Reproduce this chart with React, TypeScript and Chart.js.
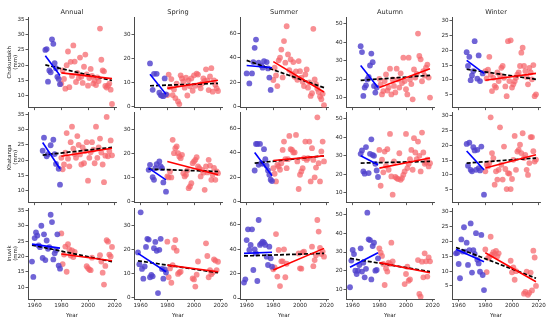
import React, { useEffect, useRef } from 'react';
import { Chart, registerables } from 'chart.js';

Chart.register(...registerables);

// ---------- labels & axes ----------
const SEASONS = ['Annual', 'Spring', 'Summer', 'Autumn', 'Winter'];
const STATIONS = ['Chokurdakh', 'Khatanga', 'Inuvik'];
const UNIT = '(mm)';
const X_LABEL = 'Year';
const X_TICKS = [1960, 1980, 2000, 2020];
const X_RANGE = [1955, 2021];

const ANNUAL_TICKS = [10, 15, 20, 25, 30, 35];
const SPRING_TICKS = [0, 10, 20, 30];
const SUMMER_TICKS = [0, 20, 40, 60];
const AUTUMN_TICKS = [10, 20, 30, 40, 50];
const WINTER_TICKS = [5, 10, 15, 20, 25, 30];

const ANNUAL_RANGE = [6.1, 35.8];
const SPRING_RANGE = [-0.6, 37.5];
const SUMMER_RANGE = [-0.8, 73.6];
const AUTUMN_RANGE = [4.8, 53.6];
const WINTER_RANGE = [0.6, 31.3];

// ---------- years ----------
const RED_YEARS = [1980, 1981, 1982, 1983, 1984, 1985, 1986, 1987, 1988, 1989, 1990, 1991, 1992, 1993, 1994, 1995, 1996, 1997, 1998, 1999, 2000, 2001, 2002, 2003, 2004, 2005, 2006, 2007, 2008, 2009, 2010, 2011, 2012, 2013, 2014, 2015, 2016, 2017, 2018];
const INUVIK_BLUE_YEARS = [1958, 1959, 1960, 1961, 1962, 1963, 1964, 1965, 1966, 1967, 1968, 1969, 1970, 1971, 1972, 1973, 1974, 1975, 1976, 1977, 1978, 1979];
const INUVIK_RED_YEARS = [1980, 1981, 1982, 1983, 1984, 1985, 1986, 1987, 1988, 1989, 1990, 1999, 2000, 2001, 2002, 2003, 2009, 2010, 2011, 2012, 2013, 2014, 2015, 2016, 2017, 2018];
// fit line end years: blue [first, 1979], red [1980, 2018], all [first, 2018]
const SPLIT_YEARS = [1979, 1980, 2018];

// ---------- Chokurdakh ----------
const CHOK_ANNUAL_BLUE_YEARS = [1968, 1969, 1970, 1971, 1972, 1973, 1974, 1975, 1976, 1977, 1978, 1979];
const CHOK_ANNUAL_BLUE = [25.0, 25.3, 14.6, 18.3, 17.7, 28.5, 27.0, 20.7, 19.0, 16.2, 15.5, 13.8];
const CHOK_ANNUAL_RED = [14.0, 18.3, 15.5, 12.3, 20.0, 24.5, 12.8, 21.1, 16.5, 26.5, 21.2, 14.5, 17.5, 15.8, 22.5, 16.2, 14.2, 19.5, 23.5, 17.0, 13.3, 15.8, 18.8, 16.5, 14.0, 15.0, 13.5, 16.0, 14.8, 32.0, 21.8, 18.3, 18.0, 13.2, 12.7, 13.3, 14.0, 12.0, 7.3];
const CHOK_ANNUAL_FIT = [23.1, 16.6, 17.5, 15.6, 20.1, 15.0];

const CHOK_SPRING_BLUE_YEARS = [1967, 1969, 1970, 1972, 1974, 1975, 1976, 1977, 1978, 1979];
const CHOK_SPRING_BLUE = [18.0, 6.9, 13.6, 13.6, 5.7, 4.7, 4.4, 4.2, 11.7, 5.0];
const CHOK_SPRING_RED = [4.7, 13.3, 8.0, 11.4, 4.7, 7.0, 3.4, 9.5, 2.0, 0.9, 13.0, 11.7, 10.3, 7.8, 12.0, 4.5, 10.9, 8.4, 11.7, 6.5, 13.0, 8.6, 13.7, 13.3, 9.0, 7.5, 9.5, 11.7, 10.6, 15.5, 10.9, 6.8, 12.5, 16.0, 6.1, 10.9, 9.0, 7.5, 6.4];
const CHOK_SPRING_FIT = [13.4, 5.0, 7.5, 10.9, 8.6, 9.6];

const CHOK_SUMMER_BLUE_YEARS = [1960, 1962, 1964, 1965, 1966, 1967, 1969, 1971, 1972, 1973, 1975, 1976, 1977, 1978];
const CHOK_SUMMER_BLUE = [27.3, 19.1, 27.3, 36.6, 48.3, 55.1, 36.1, 33.9, 32.0, 37.4, 36.6, 31.4, 23.9, 13.7];
const CHOK_SUMMER_RED = [21.9, 32.0, 25.6, 16.9, 38.0, 40.2, 46.9, 24.0, 53.8, 36.1, 66.0, 42.9, 30.0, 38.8, 27.0, 36.6, 24.5, 29.0, 22.0, 37.4, 29.1, 23.9, 20.5, 16.9, 26.5, 30.6, 15.6, 20.0, 8.8, 11.0, 63.9, 22.4, 18.5, 14.8, 12.1, 8.3, 6.1, 10.5, 1.2];
const CHOK_SUMMER_FIT = [33.8, 32.0, 37.0, 12.0, 38.0, 15.6];

const CHOK_AUTUMN_BLUE_YEARS = [1966, 1967, 1968, 1969, 1970, 1971, 1972, 1973, 1974, 1975, 1976, 1977, 1978];
const CHOK_AUTUMN_BLUE = [37.9, 34.7, 11.1, 15.6, 16.8, 20.0, 21.4, 27.5, 33.9, 29.3, 16.5, 12.9, 15.6];
const CHOK_AUTUMN_RED = [20.3, 17.3, 11.9, 13.7, 19.1, 22.7, 14.0, 15.6, 25.8, 11.9, 20.0, 16.5, 13.0, 25.8, 20.0, 15.6, 23.3, 18.0, 31.7, 19.1, 14.7, 11.9, 31.7, 20.0, 17.5, 9.3, 25.4, 21.0, 23.0, 44.7, 32.6, 30.8, 19.0, 24.5, 22.0, 26.3, 28.0, 21.0, 10.2];
const CHOK_AUTUMN_FIT = [27.5, 15.6, 15.6, 25.8, 19.5, 22.2];

const CHOK_WINTER_BLUE_YEARS = [1966, 1967, 1968, 1969, 1970, 1971, 1972, 1974, 1975, 1976, 1978];
const CHOK_WINTER_BLUE = [19.4, 14.7, 17.8, 9.9, 11.5, 13.0, 23.1, 10.4, 18.3, 9.6, 12.2];
const CHOK_WINTER_RED = [13.0, 10.5, 13.5, 17.8, 11.8, 6.2, 10.7, 8.0, 7.4, 12.5, 9.6, 11.5, 14.1, 14.7, 10.7, 7.8, 4.5, 23.1, 9.6, 23.4, 7.4, 8.5, 9.5, 10.7, 11.8, 12.5, 14.7, 19.2, 20.9, 14.7, 13.0, 11.0, 8.5, 14.1, 12.5, 10.2, 15.0, 4.5, 5.1];
const CHOK_WINTER_FIT = [16.6, 12.2, 9.9, 12.2, 13.6, 10.2];

// ---------- Khatanga ----------
const KHAT_ANNUAL_BLUE_YEARS = [1966, 1967, 1969, 1970, 1972, 1974, 1975, 1976, 1978, 1979];
const KHAT_ANNUAL_BLUE = [23.1, 27.4, 21.3, 22.0, 24.9, 26.7, 22.0, 18.8, 17.2, 12.0];
const KHAT_ANNUAL_RED = [20.8, 17.0, 18.6, 22.5, 28.9, 20.5, 18.0, 25.9, 31.0, 23.8, 22.0, 20.8, 27.9, 25.0, 21.9, 18.6, 24.2, 19.0, 23.0, 25.9, 13.3, 20.8, 22.6, 25.9, 23.5, 19.0, 31.0, 20.8, 24.2, 27.1, 22.5, 18.6, 12.8, 21.5, 34.2, 21.3, 23.0, 26.5, 21.6];
const KHAT_ANNUAL_FIT = [25.8, 17.2, 21.3, 23.9, 21.7, 24.2];

const KHAT_SPRING_BLUE_YEARS = [1966, 1967, 1969, 1970, 1971, 1972, 1974, 1975, 1976, 1977, 1979];
const KHAT_SPRING_BLUE = [13.2, 15.3, 10.1, 9.0, 13.9, 15.6, 16.7, 14.6, 13.9, 7.9, 4.0];
const KHAT_SPRING_RED = [10.4, 10.0, 12.5, 10.0, 25.8, 20.2, 22.3, 23.0, 20.2, 18.8, 18.1, 19.5, 11.8, 10.4, 11.1, 13.0, 5.5, 6.2, 7.6, 16.0, 16.7, 17.4, 18.5, 14.6, 13.9, 10.4, 13.2, 12.0, 4.8, 14.6, 12.1, 17.4, 15.0, 9.0, 11.1, 14.0, 9.0, 12.5, 11.8];
const KHAT_SPRING_FIT = [13.9, 9.0, 16.7, 11.1, 13.5, 12.5];

const KHAT_SUMMER_BLUE_YEARS = [1966, 1967, 1968, 1969, 1970, 1971, 1972, 1973, 1974, 1975, 1976, 1977, 1978, 1979];
const KHAT_SUMMER_BLUE = [25.6, 47.4, 47.4, 30.3, 47.4, 31.6, 31.1, 43.1, 34.9, 29.5, 25.6, 22.1, 18.0, 16.9];
const KHAT_SUMMER_RED = [27.5, 22.9, 16.6, 30.3, 28.9, 26.2, 31.6, 42.5, 49.3, 34.9, 27.5, 34.9, 54.0, 43.1, 42.5, 40.4, 40.4, 54.8, 33.0, 10.4, 22.1, 24.8, 27.5, 35.7, 49.3, 34.3, 35.7, 49.3, 16.6, 43.9, 34.3, 20.0, 28.0, 69.2, 31.6, 16.6, 41.2, 49.3, 33.0];
const KHAT_SUMMER_FIT = [40.4, 21.3, 33.8, 37.6, 31.6, 37.6];

const KHAT_AUTUMN_BLUE_YEARS = [1966, 1967, 1968, 1969, 1970, 1972, 1973, 1974, 1975, 1976, 1977, 1978, 1979];
const KHAT_AUTUMN_BLUE = [31.1, 32.9, 21.6, 20.4, 34.7, 20.7, 31.1, 38.9, 30.5, 30.0, 25.7, 22.1, 18.6];
const KHAT_AUTUMN_RED = [33.2, 13.9, 27.9, 21.1, 32.3, 24.6, 33.6, 22.5, 41.8, 18.9, 9.1, 27.0, 18.6, 18.0, 17.5, 31.4, 17.1, 18.0, 19.8, 21.6, 41.8, 23.4, 25.7, 28.2, 33.2, 22.5, 39.5, 31.8, 28.2, 37.7, 30.0, 21.6, 42.5, 31.8, 25.7, 26.4, 27.9, 24.3, 26.0];
const KHAT_AUTUMN_FIT = [30.0, 25.2, 23.4, 28.8, 26.1, 27.0];

const KHAT_WINTER_BLUE_YEARS = [1966, 1967, 1968, 1969, 1970, 1971, 1972, 1973, 1974, 1975, 1976, 1977, 1979];
const KHAT_WINTER_BLUE = [20.5, 13.1, 20.9, 11.7, 11.2, 19.4, 18.3, 11.7, 18.5, 12.3, 11.5, 19.6, 3.3];
const KHAT_WINTER_RED = [11.2, 13.5, 12.9, 14.0, 29.5, 17.4, 15.7, 6.7, 11.2, 8.4, 11.7, 26.1, 13.4, 8.4, 19.6, 12.0, 5.2, 10.6, 10.4, 5.2, 8.6, 15.1, 23.2, 11.7, 17.9, 18.5, 20.2, 17.4, 24.1, 15.7, 16.8, 11.7, 10.0, 14.0, 22.8, 22.8, 18.0, 14.5, 15.2];
const KHAT_WINTER_FIT = [18.1, 11.7, 12.3, 16.8, 14.0, 15.7];

// ---------- Inuvik ----------
const INUV_ANNUAL_BLUE = [18.3, 13.3, 26.0, 27.8, 26.8, 23.6, 23.0, 30.0, 19.5, 27.2, 18.8, 25.2, 22.5, 23.0, 33.6, 31.2, 19.0, 21.0, 22.0, 27.2, 17.0, 16.0];
const INUV_ANNUAL_RED = [27.5, 17.5, 20.6, 23.2, 15.0, 24.0, 22.3, 20.3, 22.0, 19.8, 21.5, 16.8, 16.2, 15.7, 15.5, 19.6, 20.4, 18.3, 14.7, 10.8, 16.9, 25.3, 24.8, 20.6, 20.0, 23.1];
const INUV_ANNUAL_FIT = [24.0, 22.7, 20.8, 18.6, 23.7, 18.3];

const INUV_SPRING_BLUE = [18.9, 14.0, 35.7, 12.0, 7.9, 13.0, 21.2, 24.6, 24.3, 8.5, 9.5, 8.9, 20.7, 23.3, 19.6, 1.9, 20.0, 24.6, 12.0, 7.9, 11.8, 10.5];
const INUV_SPRING_RED = [23.4, 8.5, 12.2, 6.2, 13.6, 20.9, 24.1, 19.6, 9.9, 10.5, 10.8, 8.0, 7.6, 4.6, 9.6, 15.1, 22.7, 17.4, 8.5, 11.5, 9.8, 10.5, 16.0, 15.5, 11.5, 15.0];
const INUV_SPRING_FIT = [18.5, 10.8, 13.6, 10.8, 15.4, 10.4];

const INUV_SUMMER_BLUE = [12.6, 15.3, 47.4, 56.2, 39.3, 43.4, 56.2, 22.9, 39.8, 36.5, 13.9, 63.8, 43.4, 44.7, 46.1, 45.3, 43.4, 33.8, 27.0, 42.0, 32.5, 25.6];
const INUV_SUMMER_RED = [23.5, 25.0, 52.3, 17.5, 39.3, 9.8, 30.0, 30.0, 39.8, 17.0, 28.0, 36.5, 24.3, 24.0, 37.4, 38.0, 42.0, 26.0, 31.0, 35.0, 63.8, 54.3, 41.0, 36.0, 38.0, 33.8];
const INUV_SUMMER_FIT = [36.5, 37.4, 22.9, 40.6, 34.4, 36.5];

const INUV_AUTUMN_BLUE = [11.1, 25.4, 31.1, 28.9, 20.0, 18.2, 20.0, 23.0, 32.0, 19.5, 24.3, 16.4, 21.0, 51.1, 36.8, 36.4, 15.3, 33.2, 35.0, 20.0, 20.4, 26.6];
const INUV_AUTUMN_RED = [32.0, 29.6, 27.9, 23.6, 12.3, 21.2, 19.5, 24.3, 23.6, 35.0, 25.0, 12.8, 18.2, 22.1, 14.6, 15.3, 25.7, 7.5, 6.0, 24.8, 16.4, 29.3, 25.0, 16.8, 27.1, 25.0];
const INUV_AUTUMN_FIT = [21.8, 29.6, 24.3, 18.9, 26.6, 19.5];

const INUV_WINTER_BLUE = [16.0, 16.2, 12.4, 7.6, 20.7, 16.6, 24.8, 16.6, 19.6, 12.1, 17.1, 26.1, 9.5, 17.1, 15.8, 22.8, 13.8, 12.6, 9.8, 22.2, 8.7, 3.6];
const INUV_WINTER_RED = [17.3, 9.7, 14.5, 14.7, 21.6, 15.6, 16.4, 15.8, 16.8, 15.0, 16.0, 13.5, 9.6, 11.3, 7.1, 10.0, 2.4, 3.0, 9.8, 2.0, 2.7, 9.5, 3.5, 16.9, 14.6, 5.0];
const INUV_WINTER_FIT = [17.4, 13.2, 16.2, 6.4, 18.0, 7.6];

// ---------- assembly ----------
const COL_TICKS = [ANNUAL_TICKS, SPRING_TICKS, SUMMER_TICKS, AUTUMN_TICKS, WINTER_TICKS];
const COL_RANGE = [ANNUAL_RANGE, SPRING_RANGE, SUMMER_RANGE, AUTUMN_RANGE, WINTER_RANGE];

type Spec = { row: number; col: number; by: number[]; b: number[]; ry: number[]; r: number[]; fit: number[] };

const PANELS: Spec[] = [
  { row: 0, col: 0, by: CHOK_ANNUAL_BLUE_YEARS, b: CHOK_ANNUAL_BLUE, ry: RED_YEARS, r: CHOK_ANNUAL_RED, fit: CHOK_ANNUAL_FIT },
  { row: 0, col: 1, by: CHOK_SPRING_BLUE_YEARS, b: CHOK_SPRING_BLUE, ry: RED_YEARS, r: CHOK_SPRING_RED, fit: CHOK_SPRING_FIT },
  { row: 0, col: 2, by: CHOK_SUMMER_BLUE_YEARS, b: CHOK_SUMMER_BLUE, ry: RED_YEARS, r: CHOK_SUMMER_RED, fit: CHOK_SUMMER_FIT },
  { row: 0, col: 3, by: CHOK_AUTUMN_BLUE_YEARS, b: CHOK_AUTUMN_BLUE, ry: RED_YEARS, r: CHOK_AUTUMN_RED, fit: CHOK_AUTUMN_FIT },
  { row: 0, col: 4, by: CHOK_WINTER_BLUE_YEARS, b: CHOK_WINTER_BLUE, ry: RED_YEARS, r: CHOK_WINTER_RED, fit: CHOK_WINTER_FIT },
  { row: 1, col: 0, by: KHAT_ANNUAL_BLUE_YEARS, b: KHAT_ANNUAL_BLUE, ry: RED_YEARS, r: KHAT_ANNUAL_RED, fit: KHAT_ANNUAL_FIT },
  { row: 1, col: 1, by: KHAT_SPRING_BLUE_YEARS, b: KHAT_SPRING_BLUE, ry: RED_YEARS, r: KHAT_SPRING_RED, fit: KHAT_SPRING_FIT },
  { row: 1, col: 2, by: KHAT_SUMMER_BLUE_YEARS, b: KHAT_SUMMER_BLUE, ry: RED_YEARS, r: KHAT_SUMMER_RED, fit: KHAT_SUMMER_FIT },
  { row: 1, col: 3, by: KHAT_AUTUMN_BLUE_YEARS, b: KHAT_AUTUMN_BLUE, ry: RED_YEARS, r: KHAT_AUTUMN_RED, fit: KHAT_AUTUMN_FIT },
  { row: 1, col: 4, by: KHAT_WINTER_BLUE_YEARS, b: KHAT_WINTER_BLUE, ry: RED_YEARS, r: KHAT_WINTER_RED, fit: KHAT_WINTER_FIT },
  { row: 2, col: 0, by: INUVIK_BLUE_YEARS, b: INUV_ANNUAL_BLUE, ry: INUVIK_RED_YEARS, r: INUV_ANNUAL_RED, fit: INUV_ANNUAL_FIT },
  { row: 2, col: 1, by: INUVIK_BLUE_YEARS, b: INUV_SPRING_BLUE, ry: INUVIK_RED_YEARS, r: INUV_SPRING_RED, fit: INUV_SPRING_FIT },
  { row: 2, col: 2, by: INUVIK_BLUE_YEARS, b: INUV_SUMMER_BLUE, ry: INUVIK_RED_YEARS, r: INUV_SUMMER_RED, fit: INUV_SUMMER_FIT },
  { row: 2, col: 3, by: INUVIK_BLUE_YEARS, b: INUV_AUTUMN_BLUE, ry: INUVIK_RED_YEARS, r: INUV_AUTUMN_RED, fit: INUV_AUTUMN_FIT },
  { row: 2, col: 4, by: INUVIK_BLUE_YEARS, b: INUV_WINTER_BLUE, ry: INUVIK_RED_YEARS, r: INUV_WINTER_RED, fit: INUV_WINTER_FIT },
];

// ---------- layout ----------
const PLOT_LEFT = [28, 134, 240, 346, 452];
const PLOT_TOP = [17, 112, 208];
const PLOT_W = 88;
const PLOT_H = 91;
const RIGHT_PAD = 9;
const FONT = 'DejaVu Sans';
const AXIS = '#4a4a4a';
const TEXT = '#262626';

function geom(row: number, col: number) {
  const yAxisW = col === 0 ? 28 : 22;
  const topPad = row === 0 ? 17 : 6;
  const bottomH = row === 2 ? 20 : 4;
  return {
    yAxisW, topPad, bottomH,
    left: PLOT_LEFT[col] - yAxisW,
    top: PLOT_TOP[row] - topPad,
    width: yAxisW + PLOT_W + RIGHT_PAD,
    height: topPad + PLOT_H + bottomH,
  };
}

function Panel({ spec }: { spec: Spec }) {
  const ref = useRef<HTMLCanvasElement>(null);
  const g = geom(spec.row, spec.col);
  useEffect(() => {
    const { row, col, by, b, ry, r, fit } = spec;
    const first = by[0];
    const lineDs = (pts: { x: number; y: number }[], color: string, dash: number[], w: number) => ({
      data: pts, showLine: true, borderColor: color, backgroundColor: color, borderWidth: w,
      borderDash: dash, pointRadius: 0, order: 0, clip: false as any,
    });
    const chart = new Chart(ref.current as HTMLCanvasElement, {
      type: 'scatter',
      data: {
        datasets: [
          lineDs([{ x: first, y: fit[0] }, { x: SPLIT_YEARS[0], y: fit[1] }], '#0000ff', [], 1.6),
          lineDs([{ x: SPLIT_YEARS[1], y: fit[2] }, { x: SPLIT_YEARS[2], y: fit[3] }], '#ff0000', [], 1.6),
          lineDs([{ x: first, y: fit[4] }, { x: SPLIT_YEARS[2], y: fit[5] }], '#000000', [4, 2], 1.7),
          {
            data: by.map((x, i) => ({ x, y: b[i] })), pointRadius: 2.9, pointBorderWidth: 0,
            backgroundColor: 'rgba(80,66,205,0.82)', borderColor: 'rgba(0,0,0,0)', order: 1,
          },
          {
            data: ry.map((x, i) => ({ x, y: r[i] })), pointRadius: 2.9, pointBorderWidth: 0,
            backgroundColor: 'rgba(245,100,105,0.72)', borderColor: 'rgba(0,0,0,0)', order: 1,
          },
        ] as any,
      },
      options: {
        animation: false,
        responsive: false,
        devicePixelRatio: 1,
        events: [],
        layout: { padding: { left: 0, right: RIGHT_PAD, top: row === 0 ? 0 : g.topPad, bottom: 0 } },
        plugins: {
          legend: { display: false },
          tooltip: { enabled: false },
          title: {
            display: row === 0, text: SEASONS[col], fullSize: false, color: TEXT,
            font: { family: FONT, size: 6.6, weight: 'normal', lineHeight: '8px' } as any,
            padding: { top: 8, bottom: 1 },
          },
        },
        scales: {
          x: {
            type: 'linear', min: X_RANGE[0], max: X_RANGE[1], bounds: 'data',
            afterBuildTicks: (s: any) => { s.ticks = X_TICKS.map((v) => ({ value: v })); },
            afterFit: (s: any) => { s.height = g.bottomH; },
            ticks: {
              display: row === 2, autoSkip: false, maxRotation: 0, padding: 1, color: TEXT,
              font: { family: FONT, size: 5.6 }, callback: (v: any) => String(v),
            },
            grid: { drawOnChartArea: false, drawTicks: true, tickLength: 2.5, color: AXIS, lineWidth: 0.9 },
            border: { display: true, color: AXIS, width: 1 },
            title: {
              display: row === 2, text: X_LABEL, color: TEXT,
              font: { family: FONT, size: 5.6 }, padding: { top: 1, bottom: 0 },
            },
          },
          y: {
            type: 'linear', min: COL_RANGE[col][0], max: COL_RANGE[col][1], bounds: 'data',
            afterBuildTicks: (s: any) => { s.ticks = COL_TICKS[col].map((v) => ({ value: v })); },
            afterFit: (s: any) => { s.width = g.yAxisW; },
            ticks: {
              autoSkip: false, padding: 1, color: TEXT,
              font: { family: FONT, size: 5.6 }, callback: (v: any) => String(v),
            },
            grid: { drawOnChartArea: false, drawTicks: true, tickLength: 2.5, color: AXIS, lineWidth: 0.9 },
            border: { display: true, color: AXIS, width: 1 },
            title: {
              display: col === 0, text: [STATIONS[row], UNIT], color: TEXT,
              font: { family: FONT, size: 5.4, lineHeight: 1.15 }, padding: { top: 6, bottom: 0 },
            },
          },
        },
      } as any,
    });
    return () => chart.destroy();
  }, []);
  return (
    <canvas
      ref={ref}
      width={g.width}
      height={g.height}
      style={{ position: 'absolute', left: g.left, top: g.top, width: g.width, height: g.height }}
    />
  );
}

export default function App() {
  return (
    <div style={{ position: 'absolute', left: 0, top: 0, width: 550, height: 325, background: '#ffffff', overflow: 'hidden' }}>
      {PANELS.map((p) => (
        <Panel key={`${p.row}-${p.col}`} spec={p} />
      ))}
    </div>
  );
}
